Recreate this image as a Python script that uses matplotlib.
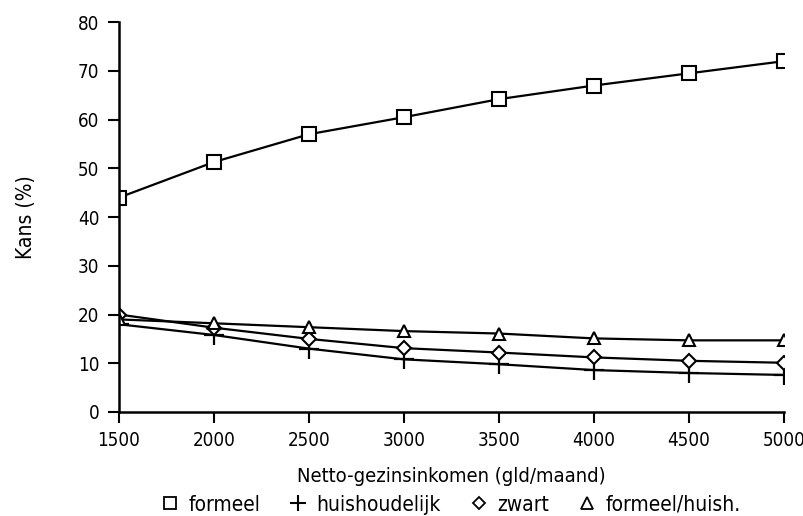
import matplotlib
matplotlib.use("Agg")
from matplotlib import pyplot as plt
from matplotlib.lines import Line2D

# inkomen (gld/maand)
inkomen = [1500, 2000, 2500, 3000, 3500, 4000, 4500, 5000]

# kans (%) per soort arbeid
formeel = [44.0, 51.3, 57.0, 60.5, 64.2, 67.0, 69.5, 72.0]
huishoudelijk = [18.0, 15.8, 13.0, 10.8, 9.8, 8.6, 8.0, 7.6]
zwart = [20.0, 17.3, 15.0, 13.1, 12.2, 11.2, 10.5, 10.1]
formeel_huish = [19.0, 18.2, 17.4, 16.6, 16.1, 15.1, 14.7, 14.7]

xticks = [1500, 2000, 2500, 3000, 3500, 4000, 4500, 5000]
yticks = [0, 10, 20, 30, 40, 50, 60, 70, 80]

plt.rcParams['font.family'] = ['DejaVu Sans']
plt.rcParams['font.stretch'] = 'condensed'

fig = plt.figure(figsize=(8.04, 5.16), dpi=100)
ax = fig.add_axes([0.148, 0.2016, 0.827, 0.7554])

lw = 1.6
ax.plot(inkomen, formeel, color="black", lw=lw, marker="s", ms=10,
        mfc="white", mec="black", mew=1.5)
ax.plot(inkomen, huishoudelijk, color="black", lw=lw, marker="+", ms=14,
        mew=1.6)
ax.plot(inkomen, zwart, color="black", lw=lw, marker="D", ms=7,
        mfc="white", mec="black", mew=1.5)
ax.plot(inkomen, formeel_huish, color="black", lw=lw, marker="^", ms=9,
        mfc="white", mec="black", mew=1.5)

ax.set_xlim(1500, 5000)
ax.set_ylim(0, 80)
ax.set_xticks(xticks)
ax.set_yticks(yticks)
ax.spines["top"].set_visible(False)
ax.spines["right"].set_visible(False)
ax.spines["left"].set_linewidth(1.8)
ax.spines["bottom"].set_linewidth(1.8)
ax.tick_params(direction="out", length=8, width=1.5, labelsize=13.5, pad=6)

ax.set_xlabel("Netto-gezinsinkomen (gld/maand)", fontsize=14.5, labelpad=12)
ax.set_ylabel("Kans (%)", fontsize=15, labelpad=30)

handles = [
    Line2D([], [], ls="none", marker="s", ms=8, mfc="white", mec="black", mew=1.3),
    Line2D([], [], ls="none", marker="+", ms=11, mec="black", mew=1.5),
    Line2D([], [], ls="none", marker="D", ms=6, mfc="white", mec="black", mew=1.3),
    Line2D([], [], ls="none", marker="^", ms=8, mfc="white", mec="black", mew=1.3),
]
labels = ["formeel", "huishoudelijk", "zwart", "formeel/huish."]
fig.legend(handles, labels, loc="center", bbox_to_anchor=(0.561, 0.022),
           ncol=4, frameon=False, fontsize=15, handlelength=0.8,
           handletextpad=0.5, columnspacing=1.4)

fig.savefig("out.png", dpi=100)
